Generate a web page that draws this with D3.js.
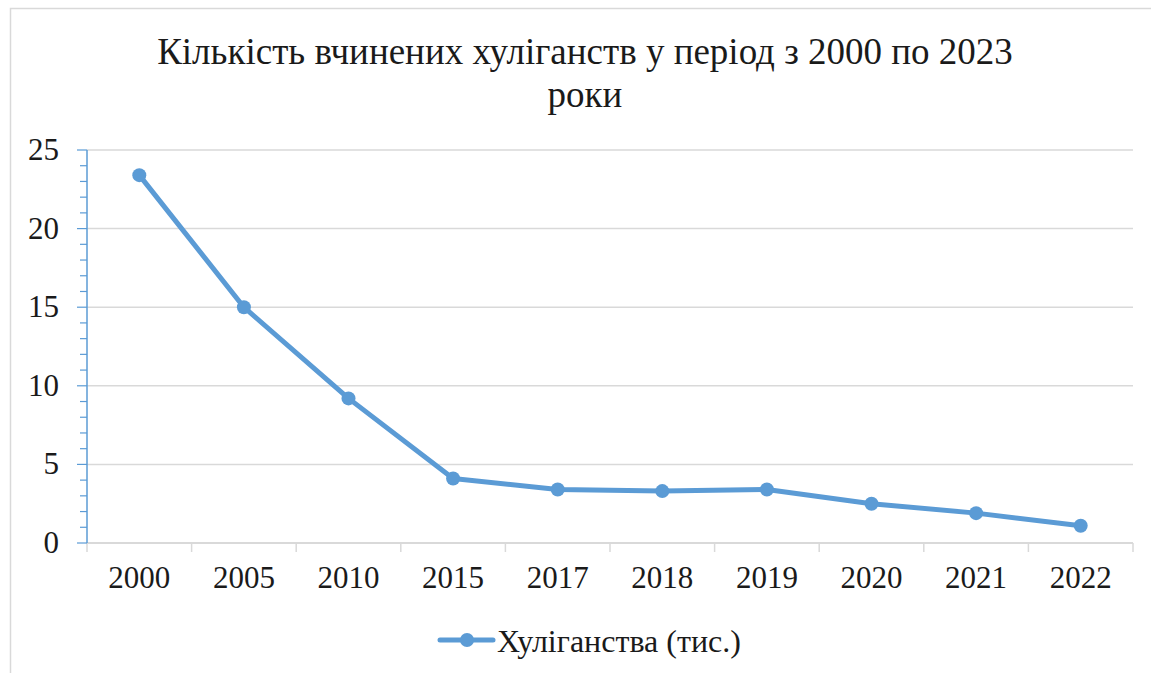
<!DOCTYPE html>
<html>
<head>
<meta charset="utf-8">
<script src="https://cdn.jsdelivr.net/npm/d3@7"></script>
<style>
  body { margin: 0; background: #fff; }
  text { font-family: "Liberation Serif", "Times New Roman", serif; fill: #1a1a1a; }
</style>
</head>
<body>
<svg id="chart" width="1151" height="673"></svg>
<script>
// data
var years = ["2000", "2005", "2010", "2015", "2017", "2018", "2019", "2020", "2021", "2022"];
var values = [23.4, 15.0, 9.2, 4.1, 3.4, 3.3, 3.4, 2.5, 1.9, 1.1];
var yTicks = [0, 5, 10, 15, 20, 25];
var titleLines = ["Кількість вчинених хуліганств у період з 2000 по 2023", "роки"];
var seriesName = "Хуліганства (тис.)";

var width = 1151, height = 673;
var margin = {top: 150, right: 18, bottom: 130, left: 87};
var blue = "#5b9bd5";

var svg = d3.select("#chart");

// outer chart border
svg.append("rect")
  .attr("x", 10.5).attr("y", 8.5)
  .attr("width", width).attr("height", height)
  .attr("fill", "#fff")
  .attr("stroke", "#d9d9d9")
  .attr("stroke-width", 1.5);

var x = d3.scaleBand().domain(years).range([margin.left, width - margin.right]);
var y = d3.scaleLinear().domain([0, 25]).range([height - margin.bottom, margin.top]);

// title
svg.append("text")
  .attr("x", 585).attr("y", 64)
  .attr("text-anchor", "middle")
  .style("font-size", "37px")
  .selectAll("tspan")
  .data(titleLines)
  .enter().append("tspan")
  .attr("x", 585)
  .attr("dy", function(d, i) { return i === 0 ? 0 : 43; })
  .text(function(d) { return d; });

// gridlines
svg.append("g")
  .selectAll("line")
  .data(yTicks.slice(1))
  .enter().append("line")
  .attr("x1", margin.left).attr("x2", width - margin.right)
  .attr("y1", function(d) { return y(d); })
  .attr("y2", function(d) { return y(d); })
  .attr("stroke", "#d9d9d9")
  .attr("stroke-width", 1.5);

// x axis
var xAxis = svg.append("g")
  .attr("transform", "translate(0," + y(0) + ")");
xAxis.append("line")
  .attr("x1", margin.left).attr("x2", width - margin.right)
  .attr("stroke", "#d9d9d9").attr("stroke-width", 2);
var bounds = years.map(function(d) { return x(d); }).concat([x(years[years.length - 1]) + x.bandwidth()]);
xAxis.selectAll(".xtick")
  .data(bounds)
  .enter().append("line")
  .attr("x1", function(d) { return d; }).attr("x2", function(d) { return d; })
  .attr("y1", 0).attr("y2", 9)
  .attr("stroke", "#d9d9d9").attr("stroke-width", 1.5);
xAxis.selectAll(".xlab")
  .data(years)
  .enter().append("text")
  .attr("x", function(d) { return x(d) + x.bandwidth() / 2; })
  .attr("y", 45)
  .attr("text-anchor", "middle")
  .style("font-size", "31px")
  .text(function(d) { return d; });

// y axis (blue with minor ticks)
var yAxis = svg.append("g");
yAxis.selectAll(".minor")
  .data(d3.range(0, 26))
  .enter().append("line")
  .attr("x1", function(d) { return d % 5 === 0 ? margin.left - 10 : margin.left - 7; })
  .attr("x2", margin.left)
  .attr("y1", function(d) { return y(d); })
  .attr("y2", function(d) { return y(d); })
  .attr("stroke", blue).attr("stroke-width", 1.2);
yAxis.append("line")
  .attr("x1", margin.left).attr("x2", margin.left)
  .attr("y1", y(0)).attr("y2", y(25))
  .attr("stroke", blue).attr("stroke-width", 1.5);
yAxis.selectAll(".ylab")
  .data(yTicks)
  .enter().append("text")
  .attr("x", 59)
  .attr("y", function(d) { return y(d) + 10; })
  .attr("text-anchor", "end")
  .style("font-size", "31px")
  .text(function(d) { return d; });

// line
var line = d3.line()
  .x(function(d, i) { return x(years[i]) + x.bandwidth() / 2; })
  .y(function(d) { return y(d); });

svg.append("path")
  .datum(values)
  .attr("d", line)
  .attr("fill", "none")
  .attr("stroke", blue)
  .attr("stroke-width", 5)
  .attr("stroke-linejoin", "round")
  .attr("stroke-linecap", "round");

svg.append("g")
  .selectAll("circle")
  .data(values)
  .enter().append("circle")
  .attr("cx", function(d, i) { return x(years[i]) + x.bandwidth() / 2; })
  .attr("cy", function(d) { return y(d); })
  .attr("r", 7)
  .attr("fill", blue);

// legend
var legend = svg.append("g").attr("transform", "translate(440,640)");
legend.append("line")
  .attr("x1", 0).attr("x2", 53)
  .attr("stroke", blue).attr("stroke-width", 5)
  .attr("stroke-linecap", "round");
legend.append("circle")
  .attr("cx", 27).attr("cy", 0).attr("r", 7)
  .attr("fill", blue);
legend.append("text")
  .attr("x", 57).attr("y", 12)
  .style("font-size", "32px")
  .text(seriesName);
</script>
</body>
</html>
